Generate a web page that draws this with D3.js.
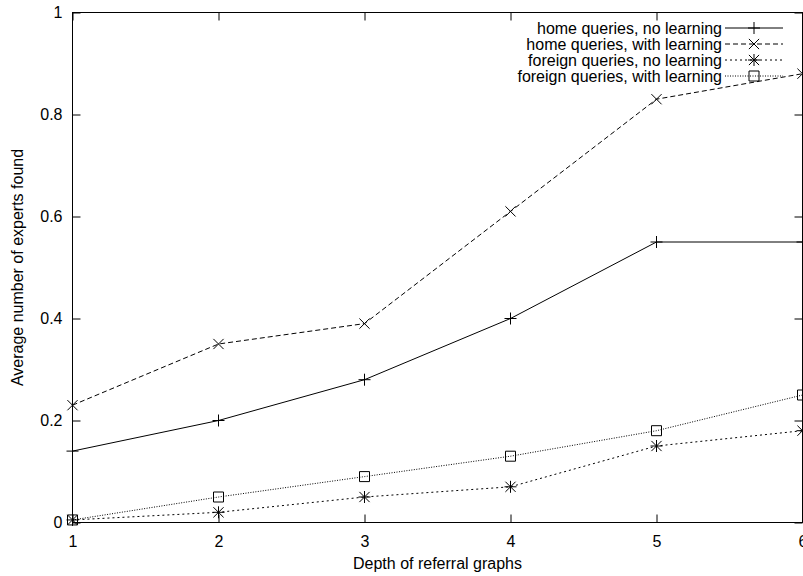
<!DOCTYPE html>
<html><head><meta charset="utf-8">
<script src="https://cdn.jsdelivr.net/npm/d3@7"></script>
<style>body{margin:0;background:#fff}svg{display:block}text{font-family:"Liberation Sans",Arial,sans-serif;font-size:16px;fill:#000}</style>
</head><body><svg id="c" width="803" height="576"></svg>
<script>
const depths = [1, 2, 3, 4, 5, 6];
const seriesNames = ["home queries, no learning", "home queries, with learning", "foreign queries, no learning", "foreign queries, with learning"];
const homeNoLearning = [0.14, 0.20, 0.28, 0.40, 0.55, 0.55];
const homeWithLearning = [0.23, 0.35, 0.39, 0.61, 0.83, 0.88];
const foreignNoLearning = [0.005, 0.02, 0.05, 0.07, 0.15, 0.18];
const foreignWithLearning = [0.005, 0.05, 0.09, 0.13, 0.18, 0.25];
const yTicks = [0, 0.2, 0.4, 0.6, 0.8, 1];
const yTickLabels = ["0", "0.2", "0.4", "0.6", "0.8", "1"];
const xTickLabels = ["1", "2", "3", "4", "5", "6"];

const series = [
  {name: seriesNames[0], values: homeNoLearning, dash: null, marker: "plus"},
  {name: seriesNames[1], values: homeWithLearning, dash: "5,3", marker: "cross"},
  {name: seriesNames[2], values: foreignNoLearning, dash: "2,3", marker: "star"},
  {name: seriesNames[3], values: foreignWithLearning, dash: "1,1.5", marker: "box"}
];

const L = 72.5, R = 802.5, T = 12.5, B = 522.5;
const svg = d3.select("#c");
const x = d3.scaleLinear().domain([1, 6]).range([L, R]);
const y = d3.scaleLinear().domain([0, 1]).range([B, T]);
const tick = 8;

const gL = svg.append("g").attr("transform", `translate(${L},0)`)
  .call(d3.axisLeft(y).tickValues(yTicks).tickFormat((d,i)=>yTickLabels[i]).tickSize(-tick).tickPadding(10));
const gR = svg.append("g").attr("transform", `translate(${R},0)`)
  .call(d3.axisRight(y).tickValues(yTicks).tickFormat("").tickSize(-tick));
const gB = svg.append("g").attr("transform", `translate(0,${B})`)
  .call(d3.axisBottom(x).tickValues(depths).tickFormat((d,i)=>xTickLabels[i]).tickSize(-tick).tickPadding(10));
const gT = svg.append("g").attr("transform", `translate(0,${T})`)
  .call(d3.axisTop(x).tickValues(depths).tickFormat("").tickSize(-tick));
[gL,gR,gB,gT].forEach(g=>{
  g.select(".domain").remove();
  g.selectAll("line").attr("stroke","#000");
  g.selectAll("text").attr("font-size",16).attr("font-family","Liberation Sans, Arial, sans-serif").attr("fill","#000");
});
gB.selectAll("text").attr("dy","0.9em");
svg.append("rect").attr("x",L).attr("y",T).attr("width",R-L).attr("height",B-T)
  .attr("fill","none").attr("stroke","#000").attr("stroke-width",1);

svg.append("text").attr("x",(L+R)/2).attr("y",569).attr("text-anchor","middle").text("Depth of referral graphs");
svg.append("text").attr("transform",`translate(23,${(T+B)/2}) rotate(-90)`).attr("text-anchor","middle").text("Average number of experts found");

function drawMarker(g, type, cx, cy) {
  const s = 6;
  const p = d3.path();
  if (type === "plus" || type === "star") {
    p.moveTo(cx - s, cy); p.lineTo(cx + s, cy);
    p.moveTo(cx, cy - s); p.lineTo(cx, cy + s);
  }
  if (type === "cross" || type === "star") {
    const k = s * 0.85;
    p.moveTo(cx - k, cy - k); p.lineTo(cx + k, cy + k);
    p.moveTo(cx - k, cy + k); p.lineTo(cx + k, cy - k);
  }
  if (type === "box") {
    const b = 5;
    p.rect(cx - b, cy - b, 2 * b, 2 * b);
  }
  g.append("path").attr("d", p.toString()).attr("fill","none").attr("stroke","#000").attr("stroke-width",1);
}

const line = d3.line().x((d,i)=>x(depths[i])).y(d=>y(d));
series.forEach(s=>{
  svg.append("path").attr("d", line(s.values)).attr("fill","none").attr("stroke","#000")
    .attr("stroke-width",1).attr("stroke-dasharray", s.dash);
  const g = svg.append("g");
  s.values.forEach((v,i)=>drawMarker(g, s.marker, x(depths[i]), y(v)));
});

series.forEach((s,i)=>{
  const cy = 28 + i*16;
  svg.append("text").attr("x",722).attr("y",cy).attr("dy","0.35em").attr("text-anchor","end").text(s.name);
  svg.append("line").attr("x1",725).attr("x2",783).attr("y1",cy).attr("y2",cy)
    .attr("stroke","#000").attr("stroke-width",1).attr("stroke-dasharray",s.dash);
  drawMarker(svg.append("g"), s.marker, 754, cy);
});
</script></body></html>
